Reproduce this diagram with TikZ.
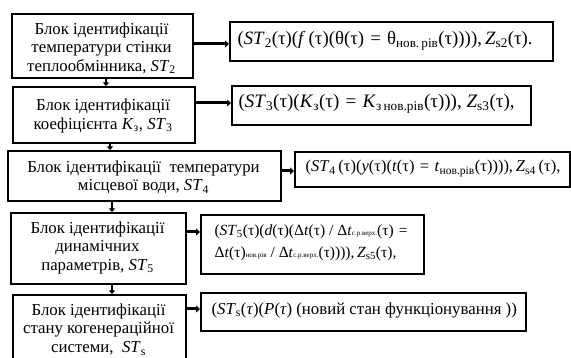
\documentclass[tikz,border=0pt]{standalone}
\usepackage{fontspec}
\setmainfont{Liberation Serif}
\usetikzlibrary{arrows.meta}
\newcommand{\lsb}[1]{\textsubscript{#1}}
\newcommand{\iv}[1]{\textit{#1}}
\newcommand{\eqs}{\hspace{0.33em}=\hspace{0.33em}}
\begin{document}
\begin{tikzpicture}[x=1pt,y=-1pt,
  blk/.style={draw,line width=1.6pt,anchor=north west,inner sep=0pt},
  frm/.style={draw,line width=1.6pt,anchor=north west,inner sep=0pt},
  ltxt/.style={align=center,font=\fontsize{16.8}{18.5}\selectfont},
  conn/.style={line width=3pt,-{Triangle[length=4pt,width=7pt]}},
  vconn/.style={line width=2.4pt,-{Triangle[length=3.5pt,width=6pt]}}]
\useasboundingbox (0,0) rectangle (571,358);
\begin{scope}
\clip (0,0) rectangle (571,358);
% left boxes
\node[blk,minimum width=181pt,minimum height=64pt] (L1) at (11,13) {};
\node[blk,minimum width=182pt,minimum height=56pt] (L2) at (12,86) {};
\node[blk,minimum width=273pt,minimum height=50pt] (L3) at (7,150) {};
\node[blk,minimum width=175pt,minimum height=71pt] (L4) at (10,212) {};
\node[blk,minimum width=173pt,minimum height=80pt] (L5) at (12,294) {};
% right boxes
\node[frm,minimum width=323pt,minimum height=39pt] (R1) at (229,21) {};
\node[frm,minimum width=299pt,minimum height=39pt] (R2) at (231,85) {};
\node[frm,minimum width=275pt,minimum height=35pt] (R3) at (294,151) {};
\node[frm,minimum width=223pt,minimum height=59pt] (R4) at (200,214) {};
\node[frm,minimum width=325pt,minimum height=38pt] (R5) at (200,292) {};
\end{scope}
% left texts
\node[ltxt] (T1) at (101.5,48) {Блок ідентифікації\\температури стінки\\теплообмінника, \iv{ST}\lsb{2}};
\node[ltxt] (T2) at (103,116) {Блок ідентифікації\\коефіцієнта \iv{K}\lsb{з}, \iv{ST}\lsb{3}};
\node[ltxt] (T3) at (143.5,177.5) {Блок ідентифікації\ \ температури\\місцевої води, \iv{ST}\lsb{4}};
\node[ltxt] (T4) at (97.5,247.5) {Блок ідентифікації\\динамічних\\параметрів, \iv{ST}\lsb{5}};
\node[ltxt] (T5) at (98.5,329.5) {Блок ідентифікації\\стану когенераційної\\системи, \ \iv{ST}\lsb{s}};
% right texts
\node[anchor=west,font=\fontsize{18.8}{20}\selectfont] (F1) at (234,41) {(\iv{ST}\lsb{2}(τ)(\iv{f}\,(τ)(θ(τ)\eqs θ\lsb{нов.\,рів}(τ)))),\,\iv{Z}\lsb{s2}(τ).};
\node[anchor=west,font=\fontsize{19}{20}\selectfont] (F2) at (235,104) {(\iv{ST}\lsb{3}(τ)(\iv{K}\lsb{з}(τ)\eqs\iv{K}\lsb{з\,нов.рів}(τ))),\ \iv{Z}\lsb{s3}(τ),};
\node[anchor=west,font=\fontsize{16.5}{18}\selectfont] (F3) at (302,168.5) {(\iv{ST}\lsb{4}\,(τ)(\iv{y}(τ)(\iv{t}(τ)\eqs\iv{t}\lsb{нов.рів}(τ)))),\,\iv{Z}\lsb{s4}\,(τ),};
\node[anchor=west,align=left,font=\fontsize{15.5}{22}\selectfont] (F4) at (211,243) {(\iv{ST}\lsb{5}(τ)(\iv{d}(τ)(Δ\iv{t}(τ) / Δ\iv{t}{\fontsize{7}{8}\selectfont с.р.верх.}(τ)\eqs\\Δ\iv{t}(τ){\fontsize{7}{8}\selectfont нов.рів} / Δ\iv{t}{\fontsize{7}{8}\selectfont с.р.верх.}(τ)))),\,\iv{Z}\lsb{s5}(τ),};
\node[anchor=west,font=\fontsize{16.8}{19}\selectfont] (F5) at (208,310) {(\iv{ST}\lsb{s}(\iv{τ})(\iv{P}(\iv{τ}) (новий стан функціонування ))};
% connectors
\draw[conn] (L1.east |- 0,44) -- (R1.west |- 0,44);
\draw[conn] (L2.east |- 0,103) -- (R2.west |- 0,103);
\draw[conn] (L3.east |- 0,171) -- (R3.west |- 0,171);
\draw[conn] (L4.east |- 0,232) -- (R4.west |- 0,232);
\draw[conn] (L5.east |- 0,309) -- (R5.west |- 0,309);
\draw[vconn] (L1.south -| 106,0) -- (L2.north -| 106,0);
\draw[vconn] (L2.south -| 110,0) -- (L3.north -| 110,0);
\draw[vconn] (L3.south -| 112,0) -- (L4.north -| 112,0);
\draw[vconn] (L4.south -| 112,0) -- (L5.north -| 112,0);
\end{tikzpicture}
\end{document}
